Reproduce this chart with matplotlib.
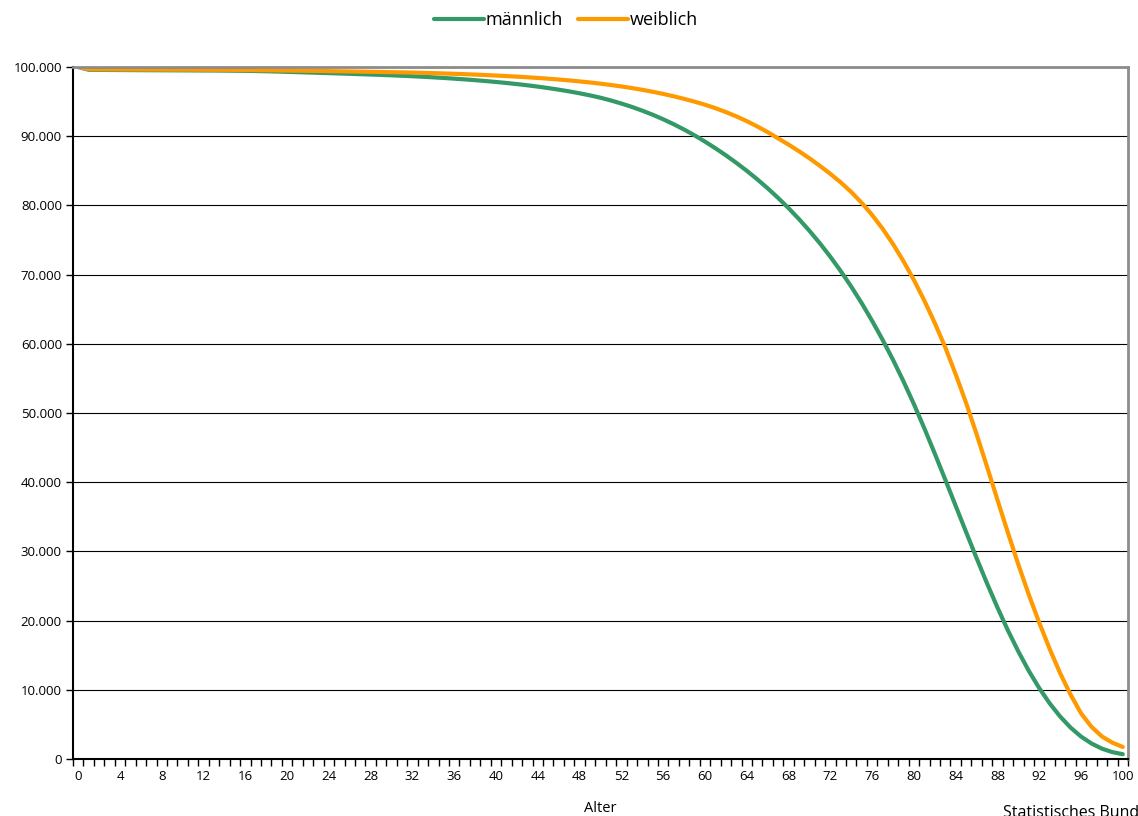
import numpy as np
import matplotlib
matplotlib.use('Agg')
import matplotlib.pyplot as plt
from matplotlib.ticker import FuncFormatter

matplotlib.rc('font', family=['Open Sans', 'DejaVu Sans'], size=10)

# Überlebende von 100.000 Neugeborenen nach Alter
alter = np.arange(0, 101)

maennlich = [
    100000, 99600, 99585, 99572, 99562, 99552, 99543, 99535, 99528, 99521,
    99514, 99507, 99499, 99490, 99479, 99465, 99446, 99420, 99385, 99345,
    99300, 99255, 99210, 99163, 99115, 99066, 99016, 98965, 98912, 98857,
    98800, 98735, 98665, 98590, 98505, 98415, 98315, 98210, 98095, 97970,
    97835, 97690, 97530, 97355, 97165, 96955, 96725, 96475, 96200, 95895,
    95560, 95162, 94722, 94234, 93693, 93099, 92447, 91737, 90963, 90126,
    89220, 88260, 87240, 86155, 85005, 83780, 82475, 81085, 79605, 78025,
    76335, 74525, 72585, 70505, 68275, 65885, 63325, 60595, 57695, 54595,
    51295, 47795, 44145, 40395, 36595, 32795, 29045, 25395, 21895, 18595,
    15545, 12745, 10245, 8045, 6145, 4545, 3245, 2245, 1495, 995,
    695,
]

weiblich = [
    100000, 99690, 99668, 99655, 99646, 99639, 99633, 99627, 99622, 99617,
    99612, 99607, 99601, 99594, 99586, 99576, 99563, 99547, 99528, 99508,
    99488, 99467, 99446, 99425, 99403, 99381, 99358, 99334, 99309, 99282,
    99253, 99223, 99190, 99153, 99112, 99067, 99017, 98962, 98902, 98836,
    98764, 98689, 98607, 98517, 98418, 98310, 98192, 98062, 97919, 97762,
    97590, 97400, 97190, 96958, 96702, 96420, 96110, 95770, 95398, 94992,
    94550, 94050, 93490, 92870, 92180, 91420, 90590, 89690, 88790, 87830,
    86810, 85720, 84560, 83320, 81940, 80380, 78620, 76640, 74420, 71950,
    69230, 66250, 63010, 59510, 55600, 51460, 46960, 42260, 37460, 32710,
    28110, 23760, 19710, 15910, 12410, 9310, 6610, 4660, 3260, 2360,
    1740,
]

x_labels = np.arange(0, 101, 4)
y_ticks = np.arange(0, 100001, 10000)

def fmt_de(v, pos):
    return '{:,.0f}'.format(v).replace(',', '.')

fig = plt.figure(figsize=(11.38, 8.16), dpi=100)
ax = fig.add_axes([73/1138, 1 - 759/816, (1128 - 73)/1138, (759 - 67)/816])

ax.plot(alter, maennlich, color='#339966', lw=3.0, label='männlich',
        solid_capstyle='round', solid_joinstyle='round')
ax.plot(alter, weiblich, color='#FF9900', lw=3.0, label='weiblich',
        solid_capstyle='round', solid_joinstyle='round')

ax.set_xlim(-0.5, 100.5)
ax.set_ylim(0, 100000)

# Kategorieachse: Striche an den Grenzen, Beschriftung in der Mitte
ax.set_xticks(x_labels)
ax.set_xticklabels([str(v) for v in x_labels], fontsize=9.5)
ax.tick_params(axis='x', which='major', length=0, pad=8)
ax.set_xticks(np.arange(-0.5, 101, 1), minor=True)
ax.tick_params(axis='x', which='minor', length=5, width=1, direction='out', color='black')

ax.set_yticks(y_ticks)
ax.yaxis.set_major_formatter(FuncFormatter(fmt_de))
ax.tick_params(axis='y', length=5, width=1, direction='out', labelsize=9.5, pad=3)

ax.grid(axis='y', color='black', lw=0.8)
ax.set_axisbelow(True)

ax.spines['left'].set_color('black')
ax.spines['left'].set_linewidth(1.5)
ax.spines['bottom'].set_color('black')
ax.spines['bottom'].set_linewidth(1.5)
ax.spines['top'].set_color('#8c8c8c')
ax.spines['top'].set_linewidth(2)
ax.spines['right'].set_color('#8c8c8c')
ax.spines['right'].set_linewidth(2)

ax.set_xlabel('Alter', fontsize=10.5, labelpad=13)

fig.legend(loc='center', bbox_to_anchor=(566/1138, 1 - 20/816), ncol=2,
           frameon=False, fontsize=13, handlelength=2.8, handletextpad=0.1,
           columnspacing=0.8)

fig.text(1003/1138, 1 - 805/816, 'Statistisches Bundesamt', fontsize=11.5,
         va='top', ha='left')

fig.savefig('out.png', dpi=100)
